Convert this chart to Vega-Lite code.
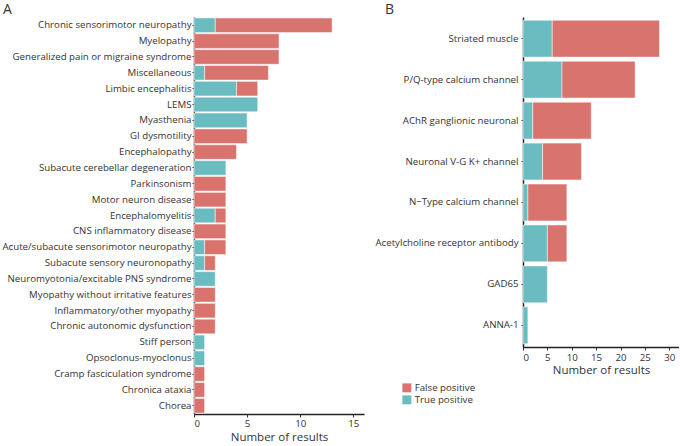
{
  "$schema": "https://vega.github.io/schema/vega-lite/v6.json",
  "padding": {"left": 1, "top": 3, "right": 0, "bottom": 0},
  "background": "white",
  "config": {
    "font": "Open Sans",
    "view": {"stroke": null},
    "axis": {
      "grid": false,
      "domainColor": "#222",
      "domainWidth": 1.5,
      "tickColor": "#333",
      "labelColor": "#333",
      "labelFont": "Open Sans",
      "labelFontSize": 9.7,
      "labelLimit": 400,
      "titleFont": "Open Sans",
      "titleFontSize": 11.5,
      "titleFontWeight": "normal",
      "titleColor": "#333"
    },
    "title": {"font": "Open Sans", "fontSize": 14, "fontWeight": "normal", "color": "#333", "anchor": "start", "frame": "bounds"},
    "legend": {"labelFont": "Open Sans", "labelFontSize": 9.7, "labelColor": "#333"}
  },
  "datasets": {
    "A": [
      {"category": "Chronic sensorimotor neuropathy", "type": "True positive", "count": 2},
      {"category": "Chronic sensorimotor neuropathy", "type": "False positive", "count": 11},
      {"category": "Myelopathy", "type": "False positive", "count": 8},
      {"category": "Generalized pain or migraine syndrome", "type": "False positive", "count": 8},
      {"category": "Miscellaneous", "type": "True positive", "count": 1},
      {"category": "Miscellaneous", "type": "False positive", "count": 6},
      {"category": "Limbic encephalitis", "type": "True positive", "count": 4},
      {"category": "Limbic encephalitis", "type": "False positive", "count": 2},
      {"category": "LEMS", "type": "True positive", "count": 6},
      {"category": "Myasthenia", "type": "True positive", "count": 5},
      {"category": "GI dysmotility", "type": "False positive", "count": 5},
      {"category": "Encephalopathy", "type": "False positive", "count": 4},
      {"category": "Subacute cerebellar degeneration", "type": "True positive", "count": 3},
      {"category": "Parkinsonism", "type": "False positive", "count": 3},
      {"category": "Motor neuron disease", "type": "False positive", "count": 3},
      {"category": "Encephalomyelitis", "type": "True positive", "count": 2},
      {"category": "Encephalomyelitis", "type": "False positive", "count": 1},
      {"category": "CNS inflammatory disease", "type": "False positive", "count": 3},
      {"category": "Acute/subacute sensorimotor neuropathy", "type": "True positive", "count": 1},
      {"category": "Acute/subacute sensorimotor neuropathy", "type": "False positive", "count": 2},
      {"category": "Subacute sensory neuronopathy", "type": "True positive", "count": 1},
      {"category": "Subacute sensory neuronopathy", "type": "False positive", "count": 1},
      {"category": "Neuromyotonia/excitable PNS syndrome", "type": "True positive", "count": 2},
      {"category": "Myopathy without irritative features", "type": "False positive", "count": 2},
      {"category": "Inflammatory/other myopathy", "type": "False positive", "count": 2},
      {"category": "Chronic autonomic dysfunction", "type": "False positive", "count": 2},
      {"category": "Stiff person", "type": "True positive", "count": 1},
      {"category": "Opsoclonus-myoclonus", "type": "True positive", "count": 1},
      {"category": "Cramp fasciculation syndrome", "type": "False positive", "count": 1},
      {"category": "Chronica ataxia", "type": "False positive", "count": 1},
      {"category": "Chorea", "type": "False positive", "count": 1}
    ],
    "B": [
      {"category": "Striated muscle", "type": "True positive", "count": 6},
      {"category": "Striated muscle", "type": "False positive", "count": 22},
      {"category": "P/Q-type calcium channel", "type": "True positive", "count": 8},
      {"category": "P/Q-type calcium channel", "type": "False positive", "count": 15},
      {"category": "AChR ganglionic neuronal", "type": "True positive", "count": 2},
      {"category": "AChR ganglionic neuronal", "type": "False positive", "count": 12},
      {"category": "Neuronal V-G K+ channel", "type": "True positive", "count": 4},
      {"category": "Neuronal V-G K+ channel", "type": "False positive", "count": 8},
      {"category": "N\u2212Type calcium channel", "type": "True positive", "count": 1},
      {"category": "N\u2212Type calcium channel", "type": "False positive", "count": 8},
      {"category": "Acetylcholine receptor antibody", "type": "True positive", "count": 5},
      {"category": "Acetylcholine receptor antibody", "type": "False positive", "count": 4},
      {"category": "GAD65", "type": "True positive", "count": 5},
      {"category": "ANNA-1", "type": "True positive", "count": 1}
    ]
  },
  "spacing": 10,
  "resolve": {"scale": {"color": "shared"}, "legend": {"color": "independent"}},
  "hconcat": [
    {
      "title": {"text": "A", "dx": 1, "offset": 0},
      "width": 170,
      "height": 397,
      "data": {"name": "A"},
      "mark": {"type": "bar", "stroke": "white", "strokeWidth": 0.5},
      "encoding": {
        "y": {"field": "category", "type": "nominal", "sort": null, "title": null,
              "scale": {"paddingInner": 0.08, "paddingOuter": 0.06},
              "axis": {"tickSize": 2, "labelPadding": 1}},
        "x": {"field": "count", "type": "quantitative", "title": "Number of results",
              "scale": {"domain": [0, 16]},
              "axis": {"values": [0, 5, 10, 15], "tickSize": 3, "labelPadding": 1, "titlePadding": 4}},
        "color": {"field": "type", "type": "nominal",
                  "scale": {"domain": ["False positive", "True positive"], "range": ["#d9736d", "#6bbcc0"]},
                  "legend": null},
        "order": {"field": "type", "sort": "descending"}
      }
    },
    {
      "title": {"text": "B", "dx": 10, "offset": 0},
      "width": 156,
      "height": 330,
      "data": {"name": "B"},
      "mark": {"type": "bar", "stroke": "white", "strokeWidth": 0.5},
      "encoding": {
        "y": {"field": "category", "type": "nominal", "sort": null, "title": null,
              "scale": {"paddingInner": 0.1, "paddingOuter": 0.08},
              "axis": {"tickSize": 2, "labelPadding": 3}},
        "x": {"field": "count", "type": "quantitative", "title": "Number of results",
              "scale": {"domain": [0, 32]},
              "axis": {"values": [0, 5, 10, 15, 20, 25, 30], "tickSize": 3, "labelPadding": 2, "titlePadding": 3}},
        "color": {"field": "type", "type": "nominal",
                  "scale": {"domain": ["False positive", "True positive"], "range": ["#d9736d", "#6bbcc0"]},
                  "legend": {"title": null, "orient": "none", "legendX": -121, "legendY": 366,
                             "symbolType": "square", "symbolSize": 80, "rowPadding": 1,
                             "symbolStrokeWidth": 0, "labelOffset": 3}},
        "order": {"field": "type", "sort": "descending"}
      }
    }
  ]
}
